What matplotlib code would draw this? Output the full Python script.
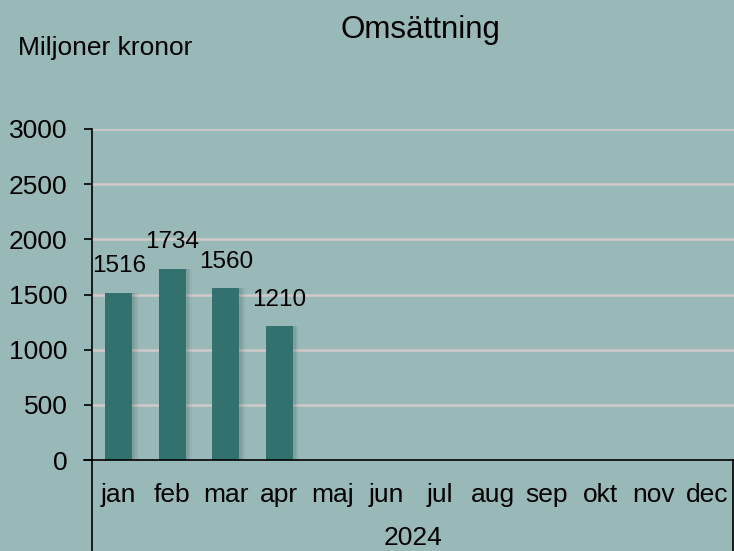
import matplotlib
matplotlib.use("Agg")
import matplotlib.pyplot as plt

plt.rcParams['font.family'] = ['Liberation Sans', 'DejaVu Sans']

months = ["jan", "feb", "mar", "apr", "maj", "jun", "jul", "aug", "sep", "okt", "nov", "dec"]
values = [1516, 1734, 1560, 1210]
year = "2024"
yticks = [0, 500, 1000, 1500, 2000, 2500, 3000]

bg = "#98b9b8"
bar_color = "#33716f"
grid_color = "#cfc9c9"

fig = plt.figure(figsize=(7.34, 5.51), dpi=100, facecolor=bg)
ax = fig.add_axes([92 / 734, 91 / 551, 642 / 734, 331 / 551])
ax.set_facecolor(bg)

x = list(range(len(months)))
xv = x[:len(values)]

# soft shadow to the right of the bars
for i, a in enumerate([0.10, 0.07, 0.04]):
    ax.bar([p + 0.06 + 0.03 * i for p in xv], values, width=0.5, color="#1f3f3e",
           alpha=a, zorder=2, linewidth=0)
ax.bar(xv, values, width=0.5, color=bar_color, zorder=3, linewidth=0)

for p, v in zip(xv, values):
    ax.annotate(str(v), (p, v), xytext=(0, 11), textcoords="offset points",
                ha="center", va="bottom", fontsize=17.5, zorder=4)

ax.set_xlim(-0.5, len(months) - 0.5)
ax.set_ylim(0, 3000)
ax.set_yticks(yticks)
ax.set_yticklabels([str(t) for t in yticks], fontsize=19)
ax.tick_params(axis="y", length=6, width=1.2, pad=11.5, direction="out")
ax.set_xticks([])

ax.grid(axis="y", color=grid_color, linewidth=1.8, zorder=0)
ax.set_axisbelow(True)

for s in ["top", "right"]:
    ax.spines[s].set_visible(False)
ax.spines["left"].set_linewidth(1.2)
ax.spines["bottom"].set_linewidth(1.2)
ax.spines["bottom"].set_zorder(5)

# category axis below plot
trans = ax.get_xaxis_transform()
for p, m in zip(x, months):
    ax.text(p, -0.106, m, transform=trans, ha="center", va="center", fontsize=19)
ax.text((len(months) - 1) / 2, -0.236, year, transform=trans, ha="center", va="center",
        fontsize=19)
ax.plot([0, 0], [0, -0.3], transform=ax.transAxes, color="black", lw=1.2, clip_on=False)
ax.plot([0.998, 0.998], [0, -0.3], transform=ax.transAxes, color="black", lw=1.2, clip_on=False)
ax.plot([-8 / 642, 0], [0, 0], transform=ax.transAxes, color="black", lw=1.2, clip_on=False)

fig.text(420 / 734, 1 - 30 / 551, "Omsättning", ha="center", va="center", fontsize=22.5)
fig.text(18 / 734, 1 - 48 / 551, "Miljoner kronor", ha="left", va="center", fontsize=19)

fig.savefig("out.png", dpi=100, facecolor=bg)
